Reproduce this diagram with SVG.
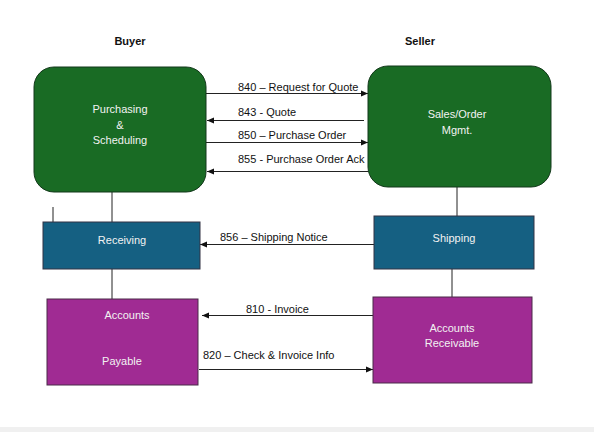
<svg xmlns="http://www.w3.org/2000/svg" width="594" height="432" viewBox="0 0 594 432">
<defs>
<marker id="ah" markerWidth="8" markerHeight="8" refX="7" refY="4" orient="auto" markerUnits="userSpaceOnUse">
<path d="M0,1 L7,4 L0,7 Z" fill="#111"/>
</marker>
<style>
.lbl{font-family:"Liberation Sans",Arial,sans-serif;font-size:11px;fill:#111}
.hdr{font-family:"Liberation Sans",Arial,sans-serif;font-size:11px;font-weight:bold;fill:#111}
.nt{font-family:"Liberation Sans",Arial,sans-serif;font-size:11px;fill:#f2f2f2;text-anchor:middle}
.green{fill:#196b24;stroke:#12381a;stroke-width:1}
.blue{fill:#156082;stroke:#334;stroke-width:1}
.purple{fill:#a02b93;stroke:#4a2a48;stroke-width:1}
.ln{stroke:#222;stroke-width:1;fill:none}
.arr{stroke:#222;stroke-width:1;fill:none;marker-end:url(#ah)}
</style>
</defs>
<rect width="594" height="432" fill="#ffffff"/>
<rect x="0" y="427" width="594" height="5" fill="#f0f0f0"/>
<text class="hdr" x="130" y="45" text-anchor="middle">Buyer</text>
<text class="hdr" x="420" y="45" text-anchor="middle">Seller</text>
<g id="connectors">
<line class="ln" x1="112" y1="192" x2="112" y2="222"/>
<line class="ln" x1="53" y1="207" x2="53" y2="222"/>
<line class="ln" x1="457" y1="187" x2="457" y2="216"/>
<line class="ln" x1="112" y1="269" x2="112" y2="299"/>
<line class="ln" x1="452" y1="264" x2="452" y2="297"/>
<line class="arr" x1="206" y1="93.5" x2="368" y2="93.5"/>
<line class="arr" x1="364" y1="120.5" x2="207" y2="120.5"/>
<line class="arr" x1="206" y1="142.5" x2="368" y2="142.5"/>
<line class="arr" x1="368" y1="171.5" x2="207" y2="171.5"/>
<line class="arr" x1="374" y1="244.5" x2="200" y2="244.5"/>
<line class="arr" x1="373" y1="315.5" x2="202" y2="315.5"/>
<line class="arr" x1="199" y1="369.5" x2="373" y2="369.5"/>
<text class="lbl" x="238" y="91">840 – Request for Quote</text>
<text class="lbl" x="238" y="116">843 - Quote</text>
<text class="lbl" x="238" y="139">850 – Purchase Order</text>
<text class="lbl" x="238" y="163">855 - Purchase Order Ack</text>
<text class="lbl" x="220" y="241">856 – Shipping Notice</text>
<text class="lbl" x="246" y="313">810 - Invoice</text>
<text class="lbl" x="203" y="359">820 – Check &amp; Invoice Info</text>
</g>
<g id="purchasing">
<rect class="green" x="34" y="67" width="172" height="125" rx="20" ry="20"/>
<text class="nt" x="120" y="113">Purchasing</text>
<text class="nt" x="120" y="129">&amp;</text>
<text class="nt" x="120" y="144">Scheduling</text>
</g>
<g id="sales">
<rect class="green" x="368" y="66" width="183" height="121" rx="20" ry="20"/>
<text class="nt" x="457" y="118">Sales/Order</text>
<text class="nt" x="457" y="134">Mgmt.</text>
</g>
<g id="receiving">
<rect class="blue" x="43" y="222" width="157" height="47"/>
<text class="nt" x="122" y="244">Receiving</text>
</g>
<g id="shipping">
<rect class="blue" x="374" y="216" width="160" height="53"/>
<text class="nt" x="454" y="242">Shipping</text>
</g>
<g id="payable">
<rect class="purple" x="47" y="299" width="151" height="86"/>
<text class="nt" x="127" y="319">Accounts</text>
<text class="nt" x="122" y="365">Payable</text>
</g>
<g id="receivable">
<rect class="purple" x="373" y="297" width="159" height="86"/>
<text class="nt" x="452" y="332">Accounts</text>
<text class="nt" x="452" y="347">Receivable</text>
</g>
</svg>
